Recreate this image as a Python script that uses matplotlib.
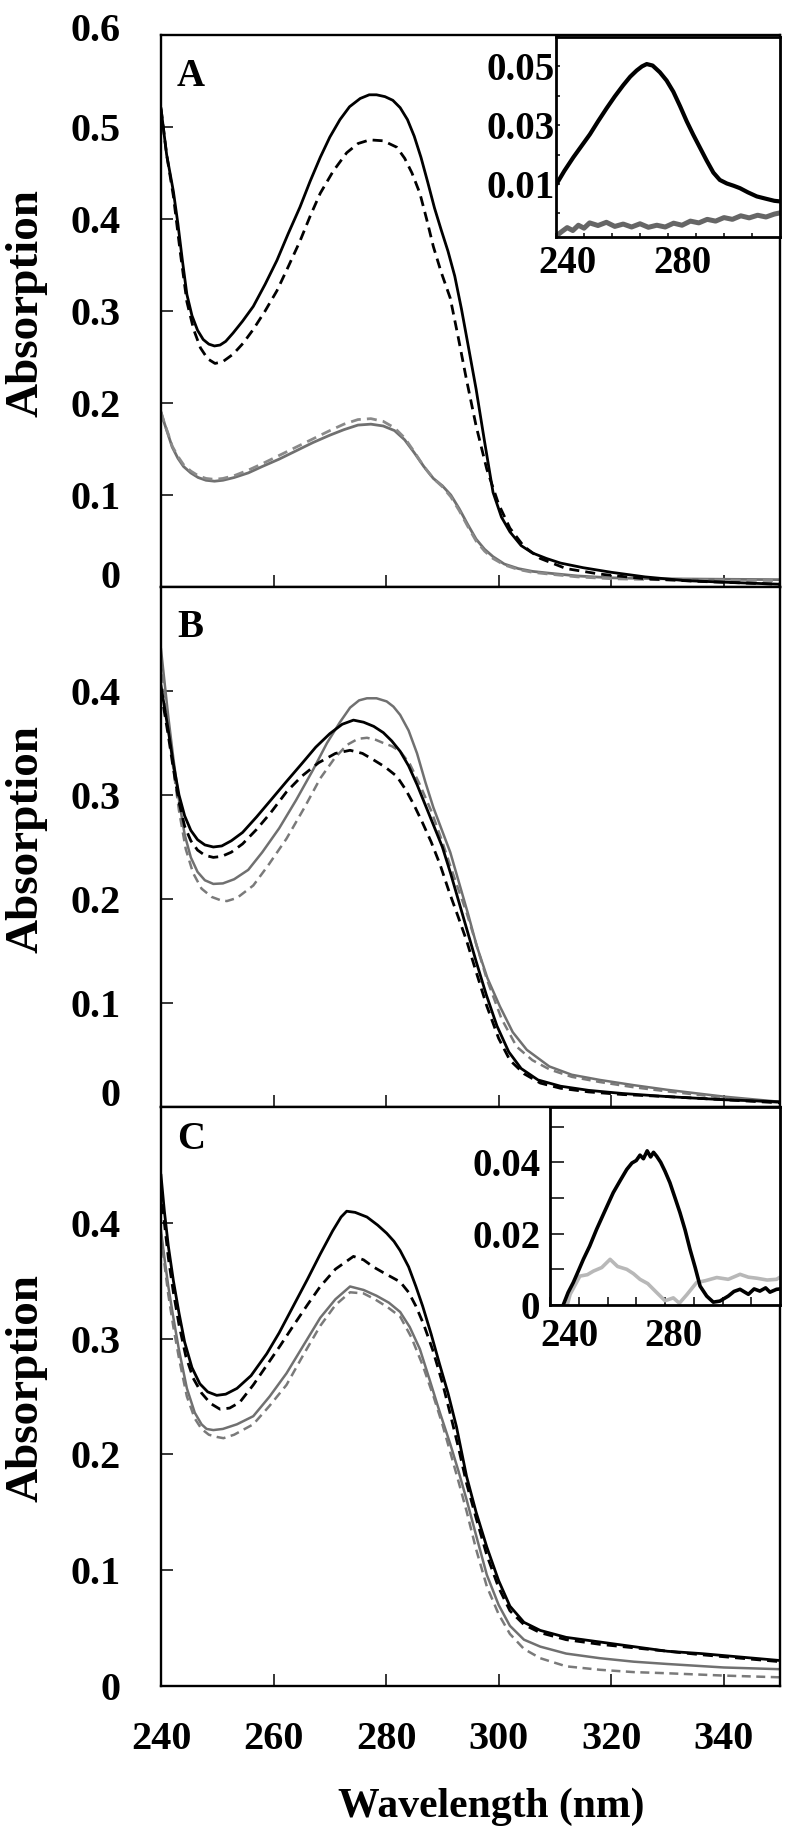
import matplotlib
matplotlib.use('Agg')
import matplotlib.pyplot as plt
from matplotlib.ticker import FixedLocator
from matplotlib.transforms import ScaledTranslation

plt.rcParams['font.family'] = ['Liberation Serif', 'DejaVu Serif']
plt.rcParams['font.weight'] = 'bold'

# ---------------- data ----------------
# Panel A
A_blk_sol_x = [240, 240.5, 241, 241.6, 242.2, 243, 243.8, 244.6, 245.5, 246.5, 247.5, 248.5, 249.5, 250.5, 251.5,
               252.8, 254.5, 256.4, 258.5, 260.6, 262.6, 264.7, 266.5, 268.3, 270, 271.8, 273.5, 275.4, 277, 278.3,
               279.8, 281.2, 282.5, 283.8, 285, 286.2, 287.4, 288.6, 289.8, 291, 292.2, 293.4, 294.6, 296, 297.5,
               299, 300.5, 302, 304, 306, 308.5, 311, 315, 320, 326, 333, 341, 350]
A_blk_sol_y = [0.520, 0.495, 0.470, 0.450, 0.430, 0.395, 0.355, 0.318, 0.295, 0.279, 0.269, 0.264, 0.262, 0.263, 0.267,
               0.276, 0.289, 0.305, 0.329, 0.355, 0.384, 0.413, 0.441, 0.467, 0.489, 0.508, 0.522, 0.531, 0.535, 0.535,
               0.533, 0.529, 0.521, 0.508, 0.490, 0.467, 0.440, 0.412, 0.388, 0.365, 0.338, 0.302, 0.262, 0.215, 0.158,
               0.103, 0.076, 0.060, 0.045, 0.037, 0.031, 0.026, 0.021, 0.016, 0.011, 0.007, 0.005, 0.003]
A_blk_dsh_x = [240, 241, 242.2, 243.4, 244.6, 245.8, 247, 248.3, 249.6, 251, 252.8, 254.6, 256.4, 258.5, 260.6, 262.6,
               264.7, 266.5, 268.3, 270.6, 273, 275, 277.1, 279.5, 281.9, 283.3, 284.6, 286, 287.2, 288.4, 289.8,
               291.4, 292.8, 294.3, 296, 297.9, 300, 302, 304.5, 307.4, 312, 318, 326, 336, 350]
A_blk_dsh_y = [0.520, 0.470, 0.425, 0.365, 0.310, 0.280, 0.260, 0.248, 0.243, 0.245, 0.253, 0.265, 0.280, 0.300, 0.322,
               0.348, 0.376, 0.403, 0.428, 0.452, 0.472, 0.482, 0.486, 0.485, 0.478, 0.466, 0.450, 0.428, 0.400, 0.370,
               0.342, 0.314, 0.272, 0.225, 0.175, 0.128, 0.090, 0.064, 0.044, 0.031, 0.020, 0.014, 0.009, 0.006, 0.003]
A_gry_x = [240, 240.6, 241.3, 242, 243, 244, 245.3, 246.6, 248, 249.5, 251, 253, 255.5, 258, 261, 264, 267, 270, 272.5,
           275, 277.3, 279.5, 281.5, 283.3, 285, 286.7, 288.4, 290, 291.5, 293, 294.5, 296, 297.5, 299, 301, 303.5,
           306, 309, 314, 320, 328, 338, 350]
A_gry_sol_y = [0.190, 0.178, 0.165, 0.152, 0.140, 0.131, 0.124, 0.119, 0.116, 0.115, 0.116, 0.119, 0.124, 0.131, 0.139,
               0.148, 0.157, 0.165, 0.171, 0.176, 0.177, 0.175, 0.170, 0.160, 0.146, 0.131, 0.118, 0.110, 0.100, 0.085,
               0.068, 0.052, 0.041, 0.033, 0.025, 0.020, 0.017, 0.015, 0.012, 0.010, 0.009, 0.0085, 0.008]
A_gry_dsh_y = [0.190, 0.178, 0.166, 0.153, 0.142, 0.133, 0.126, 0.121, 0.118, 0.117, 0.118, 0.121, 0.127, 0.134, 0.143,
               0.152, 0.161, 0.170, 0.177, 0.182, 0.183, 0.180, 0.173, 0.162, 0.147, 0.131, 0.118, 0.109, 0.098, 0.083,
               0.066, 0.050, 0.039, 0.031, 0.024, 0.019, 0.016, 0.014, 0.011, 0.009, 0.008, 0.0075, 0.007]

# Panel A inset (difference spectra)
Ai_blk_x = [240, 243, 246.2, 249, 252.1, 255, 258.1, 261, 264, 266.5, 268.8, 270.7, 272.4, 274.5, 277.1, 279.5, 281.9,
            284.3, 286.7, 289, 291.4, 293.8, 296.2, 298.5, 301, 303.5, 305.7, 308.5, 311.7, 315, 318, 320]
Ai_blk_y = [0.0097, 0.0145, 0.0191, 0.0228, 0.0269, 0.0313, 0.0358, 0.0398, 0.0436, 0.0465, 0.0486, 0.0500, 0.0508,
            0.0503, 0.0480, 0.0452, 0.0414, 0.0365, 0.0313, 0.0268, 0.0224, 0.0180, 0.0139, 0.0114, 0.0102, 0.0094,
            0.0086, 0.0072, 0.0058, 0.0050, 0.0043, 0.0041]
Ai_gry_x = [240, 242, 244, 246, 248, 250, 252, 255, 258, 261, 264, 267, 270, 273, 276, 279, 282, 285, 288, 291, 294,
            297, 300, 303, 306, 309, 312, 315, 318, 320]
Ai_gry_y = [-0.0077, -0.0062, -0.0048, -0.0058, -0.0040, -0.0050, -0.0032, -0.0041, -0.0030, -0.0044, -0.0036, -0.0046,
            -0.0035, -0.0047, -0.0040, -0.0046, -0.0033, -0.0040, -0.0026, -0.0032, -0.0020, -0.0026, -0.0014, -0.0020,
            -0.0008, -0.0015, -0.0006, -0.0012, -0.0002, 0.0002]

# Panel B
B_blk_sol_x = [240, 240.6, 241.3, 242.2, 243.2, 244.2, 245.3, 246.5, 247.8, 249.3, 250.8, 252.5, 254.5, 257, 259.5,
               262.3, 265, 267.5, 270, 272.2, 274.2, 276, 277.8, 279.5, 281, 282.5, 284, 285.5, 287, 288.5, 290,
               291.5, 293, 294.5, 296, 297.8, 299.7, 301.8, 304, 307, 311, 316, 322, 330, 340, 350]
B_blk_sol_y = [0.405, 0.385, 0.362, 0.330, 0.300, 0.280, 0.266, 0.257, 0.252, 0.250, 0.251, 0.256, 0.264, 0.279, 0.295,
               0.313, 0.330, 0.346, 0.359, 0.368, 0.372, 0.370, 0.366, 0.360, 0.352, 0.342, 0.328, 0.310, 0.290, 0.270,
               0.250, 0.224, 0.196, 0.168, 0.140, 0.108, 0.078, 0.053, 0.037, 0.026, 0.020, 0.016, 0.013, 0.010, 0.007,
               0.005]
B_blk_dsh_x = [240, 240.6, 241.3, 242.2, 243.2, 244.2, 245.3, 246.5, 247.8, 249.3, 250.8, 252.5, 254.5, 257, 259.5,
               262.3, 265, 268, 271, 273.6, 275.8, 277.7, 279.8, 281.9, 283.5, 285, 286.5, 288, 289.6, 291.2, 292.8,
               294.3, 296, 297.9, 300, 302, 304.5, 307.4, 311, 316, 322, 330, 340, 350]
B_blk_dsh_y = [0.400, 0.380, 0.357, 0.325, 0.293, 0.270, 0.256, 0.247, 0.242, 0.240, 0.241, 0.245, 0.253, 0.267, 0.283,
               0.303, 0.318, 0.331, 0.340, 0.343, 0.340, 0.334, 0.327, 0.318, 0.305, 0.290, 0.273, 0.255, 0.233, 0.207,
               0.183, 0.160, 0.130, 0.097, 0.066, 0.045, 0.032, 0.023, 0.018, 0.0145, 0.012, 0.010, 0.007, 0.004]
B_gry_sol_x = [240, 240.6, 241.3, 242.2, 243.2, 244.2, 245.3, 246.5, 247.8, 249.3, 251, 253, 255.5, 258, 261, 264, 267,
               269.5, 271.8, 273.6, 275.2, 276.6, 278.3, 280.1, 281.3, 282.5, 284, 285.5, 287, 288.4, 290, 291.4, 293,
               294.6, 296.1, 298, 300.2, 302.5, 305, 309, 313, 318, 324, 330, 340, 350]
B_gry_sol_y = [0.440, 0.410, 0.375, 0.335, 0.295, 0.262, 0.240, 0.226, 0.218, 0.2145, 0.215, 0.219, 0.228, 0.245, 0.268,
               0.295, 0.324, 0.350, 0.370, 0.384, 0.391, 0.393, 0.393, 0.390, 0.385, 0.377, 0.362, 0.340, 0.312, 0.288,
               0.265, 0.245, 0.215, 0.185, 0.155, 0.124, 0.097, 0.072, 0.055, 0.039, 0.031, 0.026, 0.021, 0.0165, 0.010,
               0.005]
B_gry_dsh_x = [240, 240.6, 241.3, 242.2, 243.2, 244.4, 245.7, 247.2, 249, 250.5, 251.7, 253.5, 256.4, 259, 262.3, 265.5,
               268.3, 270.8, 273, 275, 276.6, 278.2, 279.5, 281, 282.5, 284.2, 286, 288, 289.8, 291.4, 292.8, 294.3,
               296, 297.9, 300.5, 303.2, 306, 309.1, 313, 318, 324, 330, 340, 350]
B_gry_dsh_y = [0.430, 0.400, 0.365, 0.325, 0.285, 0.248, 0.225, 0.210, 0.202, 0.199, 0.198, 0.201, 0.213, 0.232, 0.258,
               0.288, 0.316, 0.335, 0.348, 0.354, 0.355, 0.353, 0.350, 0.347, 0.342, 0.330, 0.310, 0.285, 0.258, 0.232,
               0.210, 0.187, 0.157, 0.123, 0.085, 0.058, 0.045, 0.036, 0.029, 0.024, 0.019, 0.015, 0.009, 0.004]

# Panel C
C_blk_sol_x = [240, 240.6, 241.3, 242.2, 243.2, 244.2, 245.5, 246.9, 248.3, 249.9, 251.5, 253.5, 256, 258.8, 261, 263.5,
               266, 268.3, 270.5, 272, 273, 274.5, 276.6, 278.5, 280.1, 281.4, 282.5, 284, 285.3, 286.5, 288, 289.5,
               291, 292.5, 294.3, 296, 297.9, 300, 302, 304.5, 307.4, 312, 318, 324, 330, 336, 343, 350]
C_blk_sol_y = [0.441, 0.410, 0.380, 0.350, 0.322, 0.297, 0.275, 0.261, 0.254, 0.251, 0.252, 0.257, 0.268, 0.287, 0.305,
               0.328, 0.351, 0.373, 0.393, 0.405, 0.410, 0.409, 0.405, 0.398, 0.391, 0.384, 0.376, 0.362, 0.345, 0.328,
               0.304, 0.278, 0.253, 0.224, 0.181, 0.150, 0.120, 0.091, 0.069, 0.055, 0.048, 0.042, 0.038, 0.034, 0.030,
               0.028, 0.025, 0.022]
C_blk_dsh_x = [240, 240.6, 241.3, 242.2, 243.2, 244.4, 245.7, 247.2, 248.8, 250.5, 252.2, 254, 256.4, 258.8, 261.2,
               263.5, 266, 268.3, 271, 274.2, 276, 277.7, 279.5, 281, 282.5, 284, 285.3, 286.7, 288.3, 290, 291.4,
               292.8, 294.3, 296, 297.9, 300, 302, 304.5, 307.4, 312, 318, 324, 330, 336, 343, 350]
C_blk_dsh_y = [0.430, 0.400, 0.370, 0.340, 0.312, 0.285, 0.266, 0.253, 0.244, 0.239, 0.240, 0.245, 0.260, 0.277, 0.294,
               0.311, 0.329, 0.345, 0.360, 0.371, 0.368, 0.362, 0.357, 0.353, 0.349, 0.340, 0.328, 0.312, 0.290, 0.262,
               0.235, 0.207, 0.175, 0.145, 0.113, 0.085, 0.065, 0.053, 0.046, 0.040, 0.036, 0.033, 0.030, 0.027, 0.024,
               0.021]
C_gry_sol_x = [240, 240.6, 241.3, 242.2, 243.2, 244.6, 246, 247.2, 248.1, 249.3, 251, 253.5, 256.4, 259.3, 262.3, 265.3,
               268.3, 271, 273.6, 276, 278.3, 280.5, 282.5, 284.2, 286, 287.7, 289.5, 291.4, 292.9, 294.3, 296, 297.9,
               300, 302, 304.5, 307.4, 312, 318, 324, 330, 340, 350]
C_gry_sol_y = [0.393, 0.370, 0.345, 0.318, 0.290, 0.257, 0.236, 0.226, 0.222, 0.221, 0.222, 0.226, 0.233, 0.250, 0.270,
               0.294, 0.318, 0.334, 0.345, 0.342, 0.337, 0.331, 0.323, 0.310, 0.291, 0.265, 0.237, 0.209, 0.185, 0.161,
               0.130, 0.096, 0.070, 0.052, 0.040, 0.034, 0.028, 0.024, 0.021, 0.019, 0.016, 0.0145]
C_gry_dsh_x = [240, 240.6, 241.3, 242.2, 243.2, 244.6, 246, 247.2, 248.5, 250, 251.1, 253, 256.4, 259.3, 262.3, 265.3,
               268.3, 271, 273.6, 276, 278, 280.3, 282.5, 284.5, 286.5, 288.5, 290, 291.4, 292.9, 294.3, 296, 297.9,
               300, 302, 304.5, 307.4, 312, 318, 324, 330, 340, 350]
C_gry_dsh_y = [0.390, 0.365, 0.338, 0.310, 0.283, 0.250, 0.231, 0.222, 0.217, 0.215, 0.214, 0.217, 0.226, 0.242, 0.260,
               0.286, 0.311, 0.329, 0.340, 0.339, 0.334, 0.327, 0.319, 0.301, 0.277, 0.249, 0.226, 0.202, 0.176, 0.151,
               0.118, 0.086, 0.062, 0.045, 0.032, 0.024, 0.017, 0.014, 0.012, 0.011, 0.009, 0.0075]

# Panel C inset (difference spectra)
Ci_blk_x = [244.6, 246.3, 248.1, 250, 251.6, 253.8, 256.2, 259, 262, 264.5, 266.7, 268.5, 270, 271.3, 272.5, 273.8,
            275, 276, 277.1, 278.5, 280, 281.7, 283.5, 285.2, 287, 288.7, 290.5, 292.2, 294.5, 296.8, 299.1, 302,
            304, 306.1, 309, 311, 313, 315, 316.5, 318.8, 320]
Ci_blk_y = [0.0, 0.0035, 0.0063, 0.0098, 0.0128, 0.0165, 0.0212, 0.0262, 0.0315, 0.0350, 0.0380, 0.0398, 0.0405, 0.0420,
            0.0410, 0.0432, 0.0415, 0.0428, 0.0417, 0.0400, 0.0375, 0.0343, 0.0300, 0.0259, 0.0210, 0.0156, 0.0105,
            0.0053, 0.0025, 0.0008, 0.0011, 0.0025, 0.0038, 0.0044, 0.0030, 0.0045, 0.0039, 0.0048, 0.0036, 0.0044,
            0.0045]
Ci_gry_x = [246, 247, 250.4, 253, 255.1, 258, 260.9, 263.5, 266.7, 269, 271.3, 274, 277.1, 280, 282.9, 285, 287.6,
            291, 294, 298, 302, 306.1, 309, 312, 315.5, 318.8, 320]
Ci_gry_y = [0.0, 0.0030, 0.0081, 0.0085, 0.0095, 0.0105, 0.0128, 0.0108, 0.0100, 0.0088, 0.0072, 0.0060, 0.0035, 0.0012,
            0.0020, 0.0005, 0.0029, 0.0063, 0.0068, 0.0077, 0.0072, 0.0086, 0.0078, 0.0075, 0.0070, 0.0072, 0.0078]

main_xticks = [240, 260, 280, 300, 320, 340]
main_xlabels = ['240', '260', '280', '300', '320', '340']
A_yticks = [0, 0.1, 0.2, 0.3, 0.4, 0.5, 0.6]
A_ylabels = ['0', '0.1', '0.2', '0.3', '0.4', '0.5', '0.6']
BC_yticks = [0, 0.1, 0.2, 0.3, 0.4]
BC_ylabels = ['0', '0.1', '0.2', '0.3', '0.4']
Ai_yticks = [0.01, 0.03, 0.05]
Ai_ylabels = ['0.01', '0.03', '0.05']
Ai_yminor = [0.0, 0.02, 0.04, 0.06]
Ci_yticks = [0, 0.02, 0.04]
Ci_ylabels = ['0', '0.02', '0.04']
Ci_yminor = [0.01, 0.03, 0.05]
ins_xticks = [240, 280]
ins_xlabels = ['240', '280']
ins_xminor = [250, 260, 270, 290, 300, 310]

# ---------------- figure ----------------
DPI = 100
fig = plt.figure(figsize=(8.0, 18.35), dpi=DPI)

BLACK = '#000000'
GRAY = '#707070'
LIGHT = '#b8b8b8'
DASH = (0, (3.6, 2.2))
LW = 2.0
TICK_FS = 29
INS_FS = 28


def px_shift(dx, dy):
    return ScaledTranslation(dx / DPI, dy / DPI, fig.dpi_scale_trans)


def style_main(ax, ymax, yticks, ylabels, show_xlabels):
    ax.set_xlim(240, 350)
    ax.set_ylim(0, ymax)
    for s in ax.spines.values():
        s.set_linewidth(1.7)
    ax.xaxis.set_major_locator(FixedLocator(main_xticks))
    ax.yaxis.set_major_locator(FixedLocator(yticks))
    ax.set_yticklabels(ylabels)
    ax.set_xticklabels(main_xlabels)
    ax.tick_params(direction='in', length=8.5, width=1.1, labelsize=TICK_FS, top=False, right=False)
    ax.tick_params(axis='y', pad=29)
    ax.tick_params(axis='x', pad=25, labelbottom=show_xlabels)
    ax.set_ylabel('Absorption', fontsize=34, fontweight='bold')
    ax.yaxis.label.set_va('center')
    ax.yaxis.set_label_coords(-0.2165, 0.515)


def style_inset(ax, ylim, yticks, ylabels, yminor, ylen, xlen, ypad, xpad, spw):
    ax.set_xlim(240, 320)
    ax.set_ylim(*ylim)
    for s in ax.spines.values():
        s.set_linewidth(spw)
    ax.xaxis.set_major_locator(FixedLocator(ins_xticks))
    ax.xaxis.set_minor_locator(FixedLocator(ins_xminor))
    ax.yaxis.set_major_locator(FixedLocator(yticks))
    ax.yaxis.set_minor_locator(FixedLocator(yminor))
    ax.set_xticklabels(ins_xlabels)
    ax.set_yticklabels(ylabels)
    ax.tick_params(which='both', direction='in', width=1.1, labelsize=INS_FS, top=False, right=False)
    ax.tick_params(axis='y', which='both', length=ylen, pad=ypad)
    ax.tick_params(axis='x', which='both', length=xlen, pad=xpad)


# Panel A
axA = fig.add_axes([161 / 800, 1 - 587 / 1835, 619 / 800, 552 / 1835])
axA.plot(A_gry_x, A_gry_sol_y, color=GRAY, lw=LW)
axA.plot(A_gry_x, A_gry_dsh_y, color='#8a8a8a', lw=LW, ls=DASH)
axA.plot(A_blk_sol_x, A_blk_sol_y, color=BLACK, lw=LW)
axA.plot(A_blk_dsh_x, A_blk_dsh_y, color=BLACK, lw=LW, ls=DASH)
style_main(axA, 0.6, A_yticks, A_ylabels, False)
axA.text(0.026, 0.958, 'A', transform=axA.transAxes, fontsize=28, ha='left', va='top')

# Panel B
axB = fig.add_axes([161 / 800, 1 - 1107 / 1835, 619 / 800, 520 / 1835])
axB.plot(B_gry_sol_x, B_gry_sol_y, color=GRAY, lw=1.8)
axB.plot(B_gry_dsh_x, B_gry_dsh_y, color='#7a7a7a', lw=1.8, ls=DASH)
axB.plot(B_blk_sol_x, B_blk_sol_y, color=BLACK, lw=LW)
axB.plot(B_blk_dsh_x, B_blk_dsh_y, color=BLACK, lw=LW, ls=DASH)
style_main(axB, 0.5, BC_yticks, BC_ylabels, False)
axB.text(0.026, 0.958, 'B', transform=axB.transAxes, fontsize=28, ha='left', va='top')

# Panel C
axC = fig.add_axes([161 / 800, 1 - 1686 / 1835, 619 / 800, 579 / 1835])
axC.plot(C_gry_sol_x, C_gry_sol_y, color=GRAY, lw=1.8)
axC.plot(C_gry_dsh_x, C_gry_dsh_y, color='#7a7a7a', lw=1.8, ls=DASH)
axC.plot(C_blk_sol_x, C_blk_sol_y, color=BLACK, lw=LW)
axC.plot(C_blk_dsh_x, C_blk_dsh_y, color=BLACK, lw=LW, ls=DASH)
style_main(axC, 0.5, BC_yticks, BC_ylabels, True)
axC.set_xlabel('Wavelength (nm)', fontsize=30, fontweight='bold')
axC.xaxis.label.set_va('center')
axC.xaxis.set_label_coords(0.533, -0.209)
axC.text(0.026, 0.975, 'C', transform=axC.transAxes, fontsize=28, ha='left', va='top')

# Inset A
axAi = fig.add_axes([556 / 800, 1 - 237 / 1835, 224 / 800, 200 / 1835])
axAi.plot(Ai_gry_x, Ai_gry_y, color='#666666', lw=3.6)
axAi.plot(Ai_blk_x, Ai_blk_y, color=BLACK, lw=3.0)
style_inset(axAi, (-0.008, 0.06), Ai_yticks, Ai_ylabels, Ai_yminor, 3, 3, 1, 6, 2.0)

# Inset C
axCi = fig.add_axes([550 / 800, 1 - 1305 / 1835, 230 / 800, 198 / 1835])
axCi.plot(Ci_gry_x, Ci_gry_y, color=LIGHT, lw=2.6)
axCi.plot(Ci_blk_x, Ci_blk_y, color=BLACK, lw=2.6)
style_inset(axCi, (0, 0.0555), Ci_yticks, Ci_ylabels, Ci_yminor, 10, 6, 7, 9, 2.0)

# small label offsets seen in the reference
tA = axA.yaxis.get_major_ticks()
tA[0].label1.set_transform(tA[0].label1.get_transform() + px_shift(0, 13))
tA[-1].label1.set_transform(tA[-1].label1.get_transform() + px_shift(0, 8))
tB = axB.yaxis.get_major_ticks()
tB[0].label1.set_transform(tB[0].label1.get_transform() + px_shift(0, 15))
for ax, shifts in ((axAi, (11, 14)), (axCi, (20, 8))):
    for t, dx in zip(ax.xaxis.get_major_ticks(), shifts):
        t.label1.set_transform(t.label1.get_transform() + px_shift(dx, 0))

fig.savefig('out.png', dpi=DPI)
